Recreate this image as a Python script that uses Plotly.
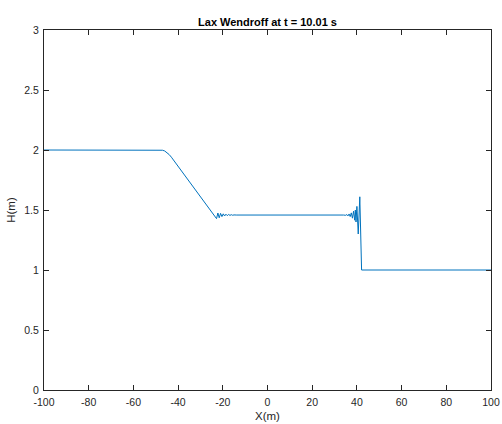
import plotly.graph_objects as go

# Water depth profile
x_vals = [-100, -48, -47, -46, -45, -44, -43,
          -23.4, -22.8, -22.2, -21.6, -21.0, -20.4, -19.8, -19.2, -18.6, -18.0, -17.4, -16.8, -16.2, -15.6, -15.0, -14.0,
          34.0, 35.0, 35.5, 36.0, 36.5, 37.0, 37.5, 38.0, 38.5, 39.0, 39.3, 39.6, 40.0, 40.3, 40.6, 41.3, 41.7, 42.1, 100]
h_vals = [2.0, 2.0, 1.998, 1.992, 1.98, 1.962, 1.94,
          1.44, 1.428, 1.475, 1.435, 1.472, 1.445, 1.468, 1.45, 1.465, 1.453, 1.463, 1.455, 1.461, 1.456, 1.459, 1.458,
          1.458, 1.456, 1.462, 1.451, 1.467, 1.445, 1.476, 1.432, 1.49, 1.415, 1.50, 1.40, 1.53, 1.375, 1.30, 1.61, 1.10, 1.0, 1.0]

x_ticks = [-100, -80, -60, -40, -20, 0, 20, 40, 60, 80, 100]
y_ticks = [0, 0.5, 1, 1.5, 2, 2.5, 3]
y_tick_text = ["0", "0.5", "1", "1.5", "2", "2.5", "3"]

fig = go.Figure()
fig.add_trace(go.Scatter(x=x_vals, y=h_vals, mode="lines",
                         line=dict(color="#0072BD", width=1)))

axis_common = dict(
    showline=True, linecolor="#262626", linewidth=1, mirror="ticks",
    ticks="inside", ticklen=5, tickcolor="#262626", tickwidth=1,
    showgrid=False, zeroline=False, automargin=False,
    tickfont=dict(family="Liberation Sans, Arial", size=10.5, color="#262626"),
)

fig.update_layout(
    width=502, height=424,
    margin=dict(l=44, r=11, t=30, b=34),
    paper_bgcolor="white", plot_bgcolor="white",
    showlegend=False,
    title=dict(text="<b>Lax Wendroff at t = 10.01 s</b>", x=(44 + 491) / 2 / 502, xanchor="center",
               y=1 - 22.5 / 424, yanchor="middle",
               font=dict(family="Liberation Sans, Arial", size=11, color="black")),
    xaxis=dict(range=[-100, 100], tickvals=x_ticks, ticktext=[str(v) for v in x_ticks],
               ticklabelstandoff=2,
               title=dict(text="X(m)", standoff=5,
                          font=dict(family="Liberation Sans, Arial", size=11.5, color="#262626")),
               **axis_common),
    yaxis=dict(range=[0, 3], tickvals=y_ticks, ticktext=y_tick_text,
               ticklabelstandoff=2,
               title=dict(text="H(m)", standoff=6,
                          font=dict(family="Liberation Sans, Arial", size=11.5, color="#262626")),
               **axis_common),
)

fig.write_html("out.html")
